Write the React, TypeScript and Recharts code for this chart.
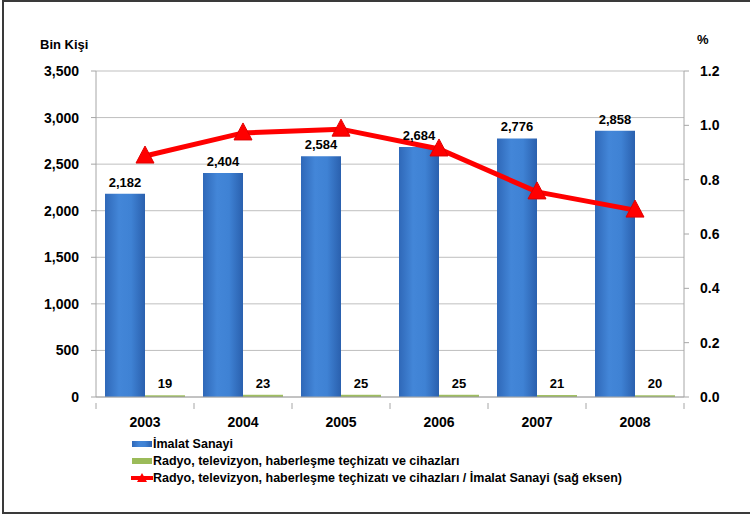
import React from "react";
import {
  ComposedChart,
  Bar,
  Line,
  XAxis,
  YAxis,
  CartesianGrid,
  LabelList,
  Legend,
} from "recharts";

const years = ["2003", "2004", "2005", "2006", "2007", "2008"];
const imalatSanayi = [2182, 2404, 2584, 2684, 2776, 2858];
const radyoTv = [19, 23, 25, 25, 21, 20];
const oran = [0.887, 0.972, 0.986, 0.913, 0.755, 0.688];
const leftTicks = [0, 500, 1000, 1500, 2000, 2500, 3000, 3500];
const rightTicks = [0, 0.2, 0.4, 0.6, 0.8, 1.0, 1.2];
const seriesNames = [
  "İmalat Sanayi",
  "Radyo, televizyon, haberleşme teçhizatı ve cihazları",
  "Radyo, televizyon, haberleşme teçhizatı ve cihazları / İmalat Sanayi (sağ eksen)",
];

const data = years.map((y, i) => ({
  year: y,
  imalat: imalatSanayi[i],
  radyo: radyoTv[i],
  oran: oran[i],
}));

const FONT = "'Liberation Sans', Arial, sans-serif";
const fmt = (v: number) => v.toLocaleString("en-US");

const Triangle = (props: any) => {
  const { cx, cy } = props;
  if (cx == null || cy == null) return null;
  return (
    <polygon
      points={`${cx},${cy - 10} ${cx - 9},${cy + 7} ${cx + 9},${cy + 7}`}
      fill="#FF0000"
      stroke="#E00000"
      strokeWidth={1}
    />
  );
};

const XTick = (props: any) => {
  const { x, y, payload, index, visibleTicksCount } = props;
  const half = 49;
  return (
    <g>
      <line x1={x - half} y1={y - 2} x2={x - half} y2={y + 4} stroke="#A6A6A6" />
      {index === (visibleTicksCount ?? 6) - 1 && (
        <line x1={x + half} y1={y - 2} x2={x + half} y2={y + 4} stroke="#A6A6A6" />
      )}
      <text
        x={x}
        y={y + 22}
        textAnchor="middle"
        fontFamily={FONT}
        fontWeight="bold"
        fontSize={14}
        fill="#000"
      >
        {payload.value}
      </text>
    </g>
  );
};

const LegendContent = () => {
  const row: React.CSSProperties = {
    display: "flex",
    alignItems: "center",
    height: 17,
    fontFamily: FONT,
    fontWeight: "bold",
    fontSize: 12.5,
    color: "#000",
    whiteSpace: "nowrap",
  };
  return (
    <div>
      <div style={row}>
        <svg width={22} height={10}>
          <rect x={1} y={2} width={20} height={6} fill="url(#blueGrad)" />
        </svg>
        <span>{seriesNames[0]}</span>
      </div>
      <div style={row}>
        <svg width={22} height={10}>
          <rect x={1} y={2} width={20} height={6} fill="#9BBB59" />
        </svg>
        <span>{seriesNames[1]}</span>
      </div>
      <div style={row}>
        <svg width={22} height={12}>
          <line x1={0} y1={6} x2={22} y2={6} stroke="#FF0000" strokeWidth={4} />
          <polygon points="11,1 6,10 16,10" fill="#FF0000" />
        </svg>
        <span>{seriesNames[2]}</span>
      </div>
    </div>
  );
};

export default function App() {
  return (
    <div
      style={{
        position: "absolute",
        left: 0,
        top: 0,
        width: 750,
        height: 518,
        overflow: "hidden",
        background: "#fff",
      }}
    >
      <div
        style={{
          position: "absolute",
          left: 2,
          top: 0,
          width: 780,
          height: 514,
          border: "2px solid #3a3a3a",
          boxSizing: "border-box",
        }}
      />
      <div
        style={{
          position: "absolute",
          left: 40,
          top: 37,
          fontFamily: FONT,
          fontWeight: "bold",
          fontSize: 13,
        }}
      >
        Bin Kişi
      </div>
      <div
        style={{
          position: "absolute",
          left: 697,
          top: 32,
          fontFamily: FONT,
          fontWeight: "bold",
          fontSize: 13,
        }}
      >
        %
      </div>
      <div style={{ position: "absolute", left: 0, top: 0 }}>
        <ComposedChart
          width={750}
          height={518}
          data={data}
          margin={{ top: 71, right: 0, bottom: 91, left: 0 }}
          barGap={0}
        >
          <defs>
            <linearGradient id="blueGrad" x1="0" y1="0" x2="1" y2="0">
              <stop offset="0%" stopColor="#2F68B8" />
              <stop offset="35%" stopColor="#4386D8" />
              <stop offset="65%" stopColor="#3F82D4" />
              <stop offset="100%" stopColor="#2A60AE" />
            </linearGradient>
            <linearGradient id="greenGrad" x1="0" y1="0" x2="0" y2="1">
              <stop offset="0%" stopColor="#A9C86A" />
              <stop offset="100%" stopColor="#8AAA4C" />
            </linearGradient>
          </defs>
          <CartesianGrid vertical={false} stroke="#BFBFBF" yAxisId="left" />
          <XAxis
            dataKey="year"
            tickLine={false}
            axisLine={{ stroke: "#A6A6A6" }}
            tick={<XTick />}
            height={30}
            interval={0}
          />
          <YAxis
            yAxisId="left"
            domain={[0, 3500]}
            ticks={leftTicks}
            tickFormatter={fmt}
            width={96}
            tickSize={5}
            tickMargin={12}
            axisLine={{ stroke: "#A6A6A6" }}
            tickLine={{ stroke: "#A6A6A6" }}
            tick={{ fontFamily: FONT, fontWeight: "bold", fontSize: 14, fill: "#000" }}
            interval={0}
          />
          <YAxis
            yAxisId="right"
            orientation="right"
            domain={[0, 1.2]}
            ticks={rightTicks}
            tickFormatter={(v: number) => v.toFixed(1)}
            width={66}
            tickSize={5}
            tickMargin={11}
            axisLine={{ stroke: "#A6A6A6" }}
            tickLine={{ stroke: "#A6A6A6" }}
            tick={{
              fontFamily: FONT,
              fontWeight: "bold",
              fontSize: 14,
              fill: "#000",
              textAnchor: "start",
            }}
            interval={0}
          />
          <Bar
            yAxisId="left"
            dataKey="imalat"
            name={seriesNames[0]}
            fill="url(#blueGrad)"
            barSize={40}
            isAnimationActive={false}
          >
            <LabelList
              dataKey="imalat"
              position="top"
              offset={7}
              formatter={(v: any) => fmt(Number(v))}
              style={{ fontFamily: FONT, fontWeight: "bold", fontSize: 13, fill: "#000" }}
            />
          </Bar>
          <Bar
            yAxisId="left"
            dataKey="radyo"
            name={seriesNames[1]}
            fill="url(#greenGrad)"
            barSize={40}
            isAnimationActive={false}
          >
            <LabelList
              dataKey="radyo"
              position="top"
              offset={7}
              style={{ fontFamily: FONT, fontWeight: "bold", fontSize: 13, fill: "#000" }}
            />
          </Bar>
          <Line
            yAxisId="right"
            dataKey="oran"
            name={seriesNames[2]}
            stroke="#FF0000"
            strokeWidth={5}
            dot={<Triangle />}
            activeDot={false}
            isAnimationActive={false}
          />
          <Legend
            layout="vertical"
            align="center"
            verticalAlign="middle"
            content={<LegendContent />}
            wrapperStyle={{ position: "absolute", left: 131, top: 435, width: 600 }}
          />
        </ComposedChart>
      </div>
    </div>
  );
}
